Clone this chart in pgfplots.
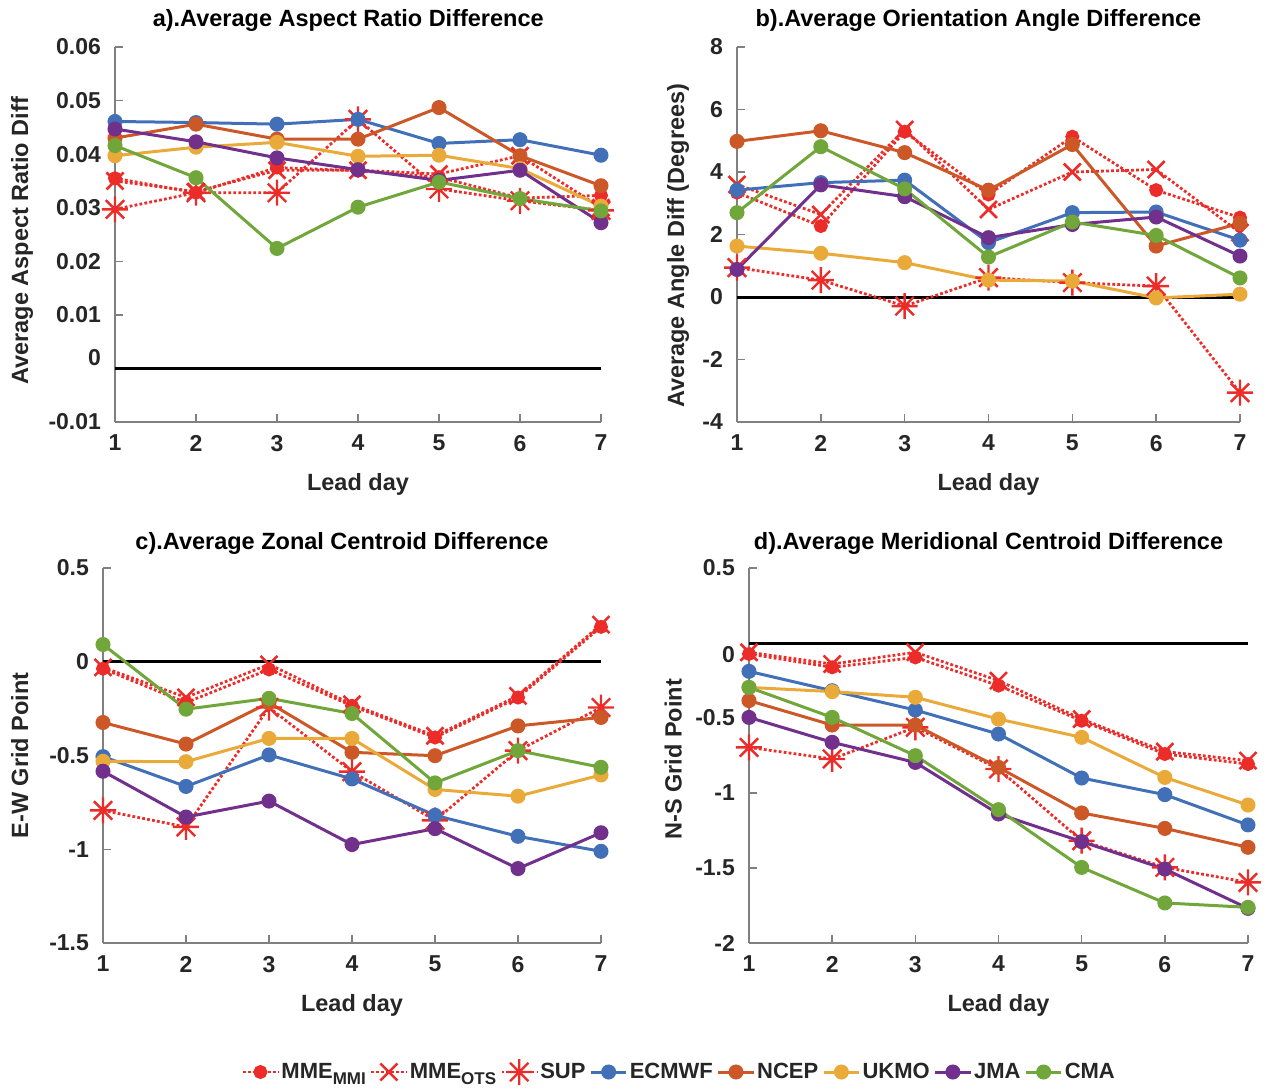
\documentclass[border=0pt]{standalone}
\usepackage{fontspec}
\setmainfont{Liberation Sans}
\usepackage{pgfplots}
\pgfplotsset{compat=1.18}
\usepackage{pgfplotstable}

\definecolor{redm}{RGB}{236,44,40}
\definecolor{ecmwf}{RGB}{66,112,184}
\definecolor{ncep}{RGB}{204,88,40}
\definecolor{ukmo}{RGB}{234,170,58}
\definecolor{jma}{RGB}{112,48,140}
\definecolor{cma}{RGB}{112,166,58}
\definecolor{axisgray}{RGB}{128,128,128}
\definecolor{txt}{RGB}{38,38,38}

\pgfdeclareplotmark{sup}{%
  \pgfpathmoveto{\pgfqpoint{-\pgfplotmarksize}{0pt}}%
  \pgfpathlineto{\pgfqpoint{\pgfplotmarksize}{0pt}}%
  \pgfpathmoveto{\pgfqpoint{0pt}{-\pgfplotmarksize}}%
  \pgfpathlineto{\pgfqpoint{0pt}{\pgfplotmarksize}}%
  \pgfpathmoveto{\pgfqpoint{-0.7071\pgfplotmarksize}{-0.7071\pgfplotmarksize}}%
  \pgfpathlineto{\pgfqpoint{0.7071\pgfplotmarksize}{0.7071\pgfplotmarksize}}%
  \pgfpathmoveto{\pgfqpoint{-0.7071\pgfplotmarksize}{0.7071\pgfplotmarksize}}%
  \pgfpathlineto{\pgfqpoint{0.7071\pgfplotmarksize}{-0.7071\pgfplotmarksize}}%
  \pgfusepathqstroke}

\pgfplotstableread{
x mmi ots sup ecmwf ncep ukmo jma cma
1 0.0355 0.0350 0.0297 0.0461 0.0430 0.0397 0.0447 0.0416
2 0.0328 0.0330 0.0328 0.0459 0.0456 0.0413 0.0423 0.0356
3 0.0375 0.0370 0.0328 0.0456 0.0428 0.0422 0.0393 0.0224
4 0.0369 0.0370 0.0465 0.0465 0.0428 0.0396 0.0371 0.0301
5 0.0357 0.0363 0.0335 0.0420 0.0487 0.0398 0.0351 0.0348
6 0.0318 0.0397 0.0313 0.0427 0.0397 0.0373 0.0370 0.0317
7 0.0323 0.0300 0.0295 0.0398 0.0341 0.0303 0.0272 0.0294
}\tabA
\pgfplotstableread{
x mmi ots sup ecmwf ncep ukmo jma cma
1 3.34 3.60 0.94 3.42 4.98 1.63 0.88 2.70
2 2.27 2.64 0.54 3.66 5.32 1.40 3.59 4.81
3 5.29 5.36 -0.29 3.74 4.62 1.10 3.21 3.46
4 3.28 2.80 0.62 1.74 3.42 0.54 1.90 1.28
5 5.13 4.00 0.46 2.70 4.88 0.51 2.32 2.40
6 3.42 4.08 0.35 2.72 1.63 -0.03 2.56 1.97
7 2.54 2.06 -3.06 1.82 2.36 0.09 1.31 0.61
}\tabB
\pgfplotstableread{
x mmi ots sup ecmwf ncep ukmo jma cma
1 -0.037 -0.030 -0.793 -0.506 -0.324 -0.531 -0.584 0.092
2 -0.218 -0.190 -0.881 -0.665 -0.439 -0.533 -0.828 -0.253
3 -0.041 -0.014 -0.244 -0.497 -0.218 -0.409 -0.743 -0.195
4 -0.235 -0.227 -0.586 -0.625 -0.483 -0.409 -0.975 -0.276
5 -0.404 -0.395 -0.846 -0.819 -0.501 -0.681 -0.890 -0.646
6 -0.191 -0.182 -0.474 -0.931 -0.342 -0.717 -1.103 -0.474
7 0.186 0.198 -0.244 -1.011 -0.297 -0.604 -0.912 -0.563
}\tabC
\pgfplotstableread{
x mmi ots sup ecmwf ncep ukmo jma cma
1 -0.073 -0.062 -0.696 -0.189 -0.384 -0.296 -0.496 -0.296
2 -0.162 -0.140 -0.773 -0.318 -0.547 -0.324 -0.662 -0.496
3 -0.096 -0.062 -0.562 -0.447 -0.547 -0.362 -0.796 -0.751
4 -0.284 -0.251 -0.840 -0.607 -0.829 -0.507 -1.140 -1.111
5 -0.518 -0.507 -1.318 -0.900 -1.133 -0.629 -1.324 -1.496
6 -0.740 -0.724 -1.496 -1.011 -1.236 -0.896 -1.507 -1.733
7 -0.807 -0.784 -1.596 -1.213 -1.362 -1.080 -1.769 -1.762
}\tabD

\newcommand{\sub}[1]{\raisebox{-3.2pt}{\fontsize{8.5}{9}\selectfont #1}}

\pgfplotsset{
  panel/.style={
    scale only axis, height=187.5pt,
    xmin=1, xmax=7, xtick={1,2,3,4,5,6,7},
    scaled y ticks=false,
    axis lines*=left,
    axis line style={-, draw=axisgray, line width=0.7pt},
    tick align=inside, major tick length=4pt,
    tick style={draw=axisgray, line width=0.7pt},
    clip=false,
    /pgf/number format/assume math mode=true,
    tick label style={font=\fontsize{11.5}{13}\selectfont\bfseries, text=txt},
    xticklabel style={yshift=-3pt},
    yticklabel style={xshift=-3.5pt},
    every axis title shift=0pt,
    title style={font=\fontsize{11.75}{13}\selectfont\bfseries, text=black, anchor=center, yshift=-1pt},
    label style={font=\fontsize{11.75}{13}\selectfont\bfseries, text=txt},
    xlabel style={at={(0.5,-0.166)}, anchor=center},
    xlabel={Lead day},
  },
  mmi/.style={color=redm, line width=1.4pt, dash pattern=on 1.4pt off 1.1pt, mark=*, mark size=2.8pt, mark options={solid}},
  ots/.style={color=redm, line width=1.4pt, dash pattern=on 1.4pt off 1.1pt, mark=x, mark size=6pt, mark options={solid, line width=1.3pt}},
  sup/.style={color=redm, line width=1.4pt, dash pattern=on 1.4pt off 1.1pt, mark=sup, mark size=6.5pt, mark options={solid, line width=1.2pt}},
  model/.style={color=#1, line width=1.5pt, mark=*, mark size=3pt, mark options={solid}},
}

\newcommand{\plotall}[1]{%
  \addplot[black, line width=1.5pt, forget plot] coordinates {(1,0) (7,0)};
  \addplot[mmi] table[x=x, y=mmi] {#1};
  \addplot[ots] table[x=x, y=ots] {#1};
  \addplot[sup] table[x=x, y=sup] {#1};
  \addplot[model=ecmwf] table[x=x, y=ecmwf] {#1};
  \addplot[model=ncep] table[x=x, y=ncep] {#1};
  \addplot[model=ukmo] table[x=x, y=ukmo] {#1};
  \addplot[model=jma] table[x=x, y=jma] {#1};
  \addplot[model=cma] table[x=x, y=cma] {#1};
}

\begin{document}
\begin{tikzpicture}
\path[use as bounding box] (0pt,0pt) rectangle (633pt,-544pt);

% a
\begin{axis}[panel, at={(57.5pt,-211pt)}, anchor=south west, width=243pt,
  ymin=-0.01, ymax=0.06,
  ytick={-0.01,0,0.01,0.02,0.03,0.04,0.05,0.06},
  yticklabels={-0.01,{\raisebox{5.5pt}[\height][\depth]{0}},0.01,0.02,0.03,0.04,0.05,0.06},
  title={a).Average Aspect Ratio Difference}, title style={at={(0.48,1.075)}},
  ylabel={Average Aspect Ratio Diff}, ylabel style={at={(-0.191,0.483)}, anchor=center}]
\plotall{\tabA}
\end{axis}

% b
\begin{axis}[panel, at={(368.5pt,-211pt)}, anchor=south west, width=251.5pt,
  ymin=-4, ymax=8, ytick={-4,-2,0,2,4,6,8},
  yticklabels={-4,-2,0,2,4,6,8},
  title={b).Average Orientation Angle Difference}, title style={at={(0.48,1.075)}},
  ylabel={Average Angle Diff (Degrees)}, ylabel style={at={(-0.117,0.47)}, anchor=center}]
\plotall{\tabB}
\end{axis}

% c
\begin{axis}[panel, at={(51.5pt,-471.5pt)}, anchor=south west, width=249pt,
  ymin=-1.5, ymax=0.5, ytick={-1.5,-1,-0.5,0,0.5},
  yticklabels={-1.5,-1,-0.5,0,0.5},
  title={c).Average Zonal Centroid Difference}, title style={at={(0.48,1.072)}},
  ylabel={E-W Grid Point}, ylabel style={at={(-0.167,0.5)}, anchor=center}]
\plotall{\tabC}
\end{axis}

% d
\begin{axis}[panel, at={(374.5pt,-471.5pt)}, anchor=south west, width=249.5pt,
  ymin=-2, ymax=0.5, ytick={-2,-1.5,-1,-0.5,0,0.5},
  yticklabels={-2,-1.5,-1,-0.5,{\raisebox{-6pt}[\height][\depth]{0}},0.5},
  title={d).Average Meridional Centroid Difference}, title style={at={(0.48,1.072)}},
  ylabel={N-S Grid Point}, ylabel style={at={(-0.152,0.49)}, anchor=center},
  legend style={at={(-0.138,-0.344)}, anchor=center, draw=none, fill=none,
    legend columns=8, font=\fontsize{11}{12}\selectfont\bfseries, text=txt,
    /tikz/every odd column/.append style={column sep=-1pt},
    /tikz/every even column/.append style={column sep=0pt}},
  legend image code/.code={\draw[mark repeat=2,mark phase=2] plot coordinates {(0cm,0cm) (0.31cm,0cm) (0.62cm,0cm)};},
  legend entries={MME\sub{MMI}, MME\sub{OTS}, SUP, ECMWF, NCEP, UKMO, JMA, CMA}]
\plotall{\tabD}
\end{axis}
\end{tikzpicture}
\end{document}
